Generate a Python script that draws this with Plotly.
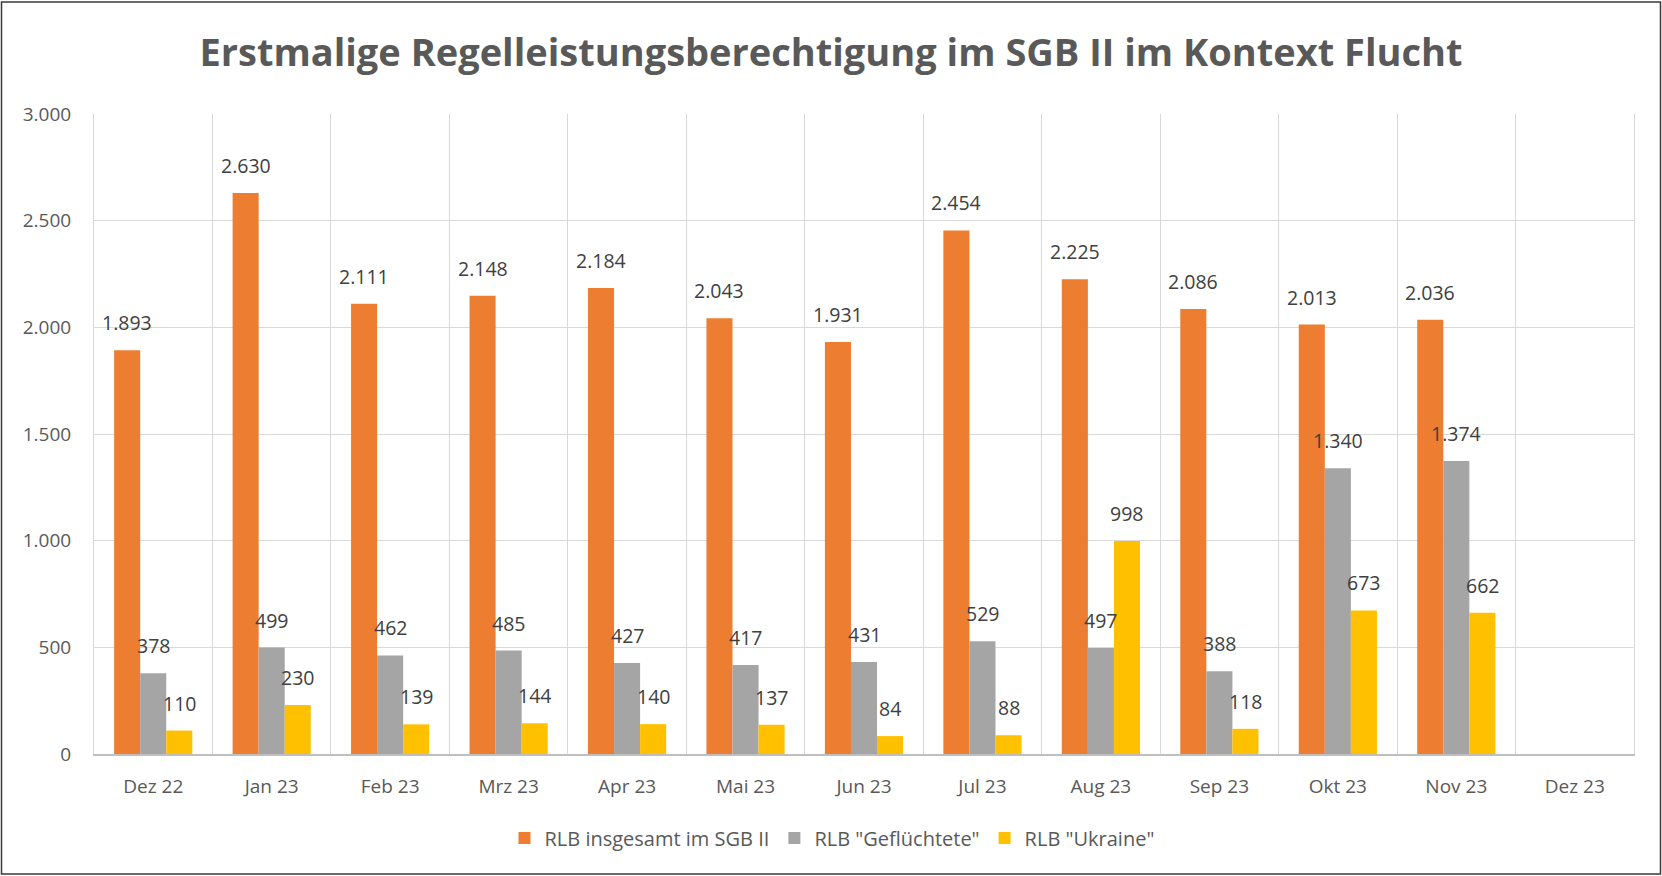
import plotly.graph_objects as go

months = ["Dez 22", "Jan 23", "Feb 23", "Mrz 23", "Apr 23", "Mai 23", "Jun 23",
          "Jul 23", "Aug 23", "Sep 23", "Okt 23", "Nov 23", "Dez 23"]
rlb_gesamt = [1893, 2630, 2111, 2148, 2184, 2043, 1931, 2454, 2225, 2086, 2013, 2036, None]
rlb_gefluechtete = [378, 499, 462, 485, 427, 417, 431, 529, 497, 388, 1340, 1374, None]
rlb_ukraine = [110, 230, 139, 144, 140, 137, 84, 88, 998, 118, 673, 662, None]
y_ticks = [0, 500, 1000, 1500, 2000, 2500, 3000]

W, H = 1662, 876
ML, MR, MT, MB = 94, 28, 114, 122
BARGAP = 0.34
FONT = "Open Sans"

series = [
	("RLB insgesamt im SGB II", rlb_gesamt, "#ED7D31"),
	('RLB "Geflüchtete"', rlb_gefluechtete, "#A5A5A5"),
	('RLB "Ukraine"', rlb_ukraine, "#FFC000"),
]

fig = go.Figure()
for name, values, color in series:
	fig.add_trace(go.Bar(x = months, y = values, name = name, marker_color = color,
	                     marker_line_width = 0))

# data labels as annotations, shifted onto each bar of the group
cat_w = (W - ML - MR) / len(months)
bar_w = cat_w * (1 - BARGAP) / len(series)
for k, (name, values, color) in enumerate(series):
	shift = (k - 1) * bar_w
	for m, v in zip(months, values):
		if v is None:
			continue
		fig.add_annotation(x = m, y = v, text = f"{v:,}".replace(",", "."),
		                   showarrow = False, xshift = shift, yshift = 12,
		                   yanchor = "bottom",
		                   font = dict(family = FONT, size = 19.5, color = "#404040"))

# thin frame round the whole chart
pw = W - ML - MR
ph = H - MT - MB
fig.add_shape(type = "rect", xref = "paper", yref = "paper",
              x0 = -(ML - 1.5) / pw, x1 = 1 + (MR - 1.5) / pw,
              y0 = -(MB - 2) / ph, y1 = 1 + (MT - 2) / ph,
              line = dict(color = "#3a3a3a", width = 1.5), layer = "below")

fig.update_layout(
	width = W, height = H,
	margin = dict(l = ML, r = MR, t = MT, b = MB),
	paper_bgcolor = "white", plot_bgcolor = "white",
	separators = ",.",
	barmode = "group", bargap = BARGAP, bargroupgap = 0,
	font = dict(family = FONT, size = 19, color = "#595959"),
	title = dict(text = "<b>Erstmalige Regelleistungsberechtigung im SGB II im Kontext Flucht</b>",
	             x = 0.5, xanchor = "center", xref = "container",
	             y = 1 - 53 / H, yanchor = "middle", yref = "container",
	             font = dict(family = FONT, size = 38, color = "#595959")),
	legend = dict(orientation = "h", x = 832 / W, xanchor = "center", xref = "container",
	              y = 1 - 838 / H, yanchor = "middle", yref = "container",
	              font = dict(family = FONT, size = 20, color = "#595959"),
	              itemwidth = 30, traceorder = "normal"),
	showlegend = True,
)
fig.update_xaxes(type = "category", tickson = "boundaries", showgrid = True,
                 gridcolor = "#D9D9D9", gridwidth = 1, ticks = "",
                 showline = True, linecolor = "#BFBFBF", linewidth = 1.5,
                 range = [-0.5, len(months) - 0.5], ticklabelstandoff = 14,
                 mirror = False)
fig.update_yaxes(range = [0, 3000], tickvals = y_ticks, tickformat = ",",
                 showgrid = True, gridcolor = "#D9D9D9", gridwidth = 1,
                 zeroline = False, ticks = "", ticklabelstandoff = 18,
                 showline = True, linecolor = "#D9D9D9", linewidth = 1, mirror = True)

fig.write_html("out.html", config = {"displayModeBar": False},
               post_script = "document.body.style.margin = '0';")
